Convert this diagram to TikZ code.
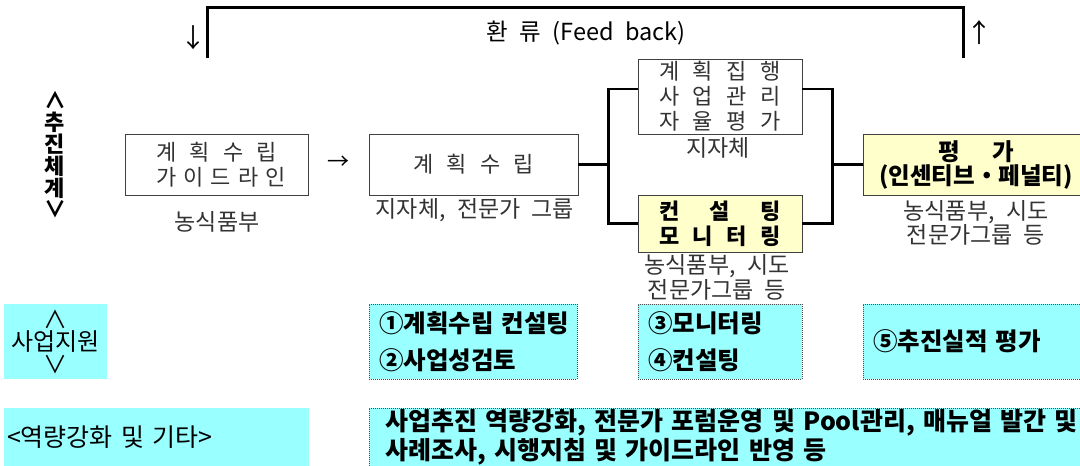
\documentclass[tikz,border=0pt]{standalone}
\usepackage{fontspec}
\setmainfont{Noto Sans CJK KR}[WordSpace=2.2]
\usetikzlibrary{positioning}
\definecolor{boxyellow}{HTML}{FFFFCC}
\definecolor{boxcyan}{HTML}{99FFFF}
\definecolor{labelgray}{HTML}{333333}

\begin{document}
\begin{tikzpicture}[x=1pt, y=-1pt,
    whitebox/.style={draw=black!75, line width=0.8pt, fill=white, inner sep=0pt,
      text=labelgray, align=center, font=\fontsize{22}{25}\selectfont},
    yellowbox/.style={whitebox, fill=boxyellow, text=black,
      font=\fontsize{22}{25}\selectfont\bfseries},
    cyanbox/.style={fill=boxcyan, inner sep=0pt, align=left,
      font=\fontsize{24.5}{37}\selectfont\bfseries},
    dotbox/.style={cyanbox, draw=black!70, line width=0.8pt,
      dash pattern=on 1pt off 1pt},
    note/.style={text=labelgray, inner sep=0pt, align=center,
      font=\fontsize{23}{20.5}\selectfont},
    link/.style={line width=2.6pt}]

  \useasboundingbox (0,0) rectangle (1080,466);

  % feedback loop
  \coordinate (fbl) at (207,58);
  \coordinate (fbr) at (963,58);
  \draw [line width=3pt] (fbl) -- ++(0,-51) -| (fbr);
  \node [font=\fontsize{26}{26}\selectfont] (fbdown) at (193,38) {↓};
  \node [font=\fontsize{26}{26}\selectfont] (fbup) at (979,33) {↑};
  \node [font=\fontsize{23.5}{23.5}\selectfont] (fbtext) at (586,33) {환 류 (Feed back)};

  % side title
  \node [font=\fontsize{22}{21.8}\selectfont\bfseries, align=center] (side) at (55,155)
    {∧\\추\\진\\체\\계\\∨};

  % main flow
  \node [whitebox, minimum width=183, minimum height=61] (guide) at (216.5,164.5)
    {\makebox[121pt][s]{계 획 수 립}\\\makebox[121pt][s]{가 이 드 라 인}};
  \node [note] (guidelab) at (217,222) {농식품부};
  \node [font=\fontsize{22}{22}\selectfont] (arr) at (338,163) {→};

  \node [whitebox, minimum width=209, minimum height=61] (plan) at (473.5,164.5)
    {\makebox[121pt][s]{계 획 수 립}};
  \node [note] (planlab) at (475,210) {지자체, 전문가 그룹};

  \node [whitebox, minimum width=164, minimum height=75] (exec) at (720,96.5)
    {\makebox[122pt][s]{계 획 집 행}\\\makebox[122pt][s]{사 업 관 리}\\\makebox[122pt][s]{자 율 평 가}};
  \node [note] (execlab) at (718,148) {지자체};

  \node [yellowbox, minimum width=164, minimum height=57] (consult) at (720,223.5)
    {\makebox[122pt][s]{컨 설 팅}\\\makebox[122pt][s]{모 니 터 링}};
  \node [note] (consultlab) at (717,277.5) {농식품부, 시도\\전문가그룹 등};

  \node [yellowbox, minimum width=226, minimum height=61,
    font=\fontsize{23.5}{24}\selectfont\bfseries] (eval) at (976,164.5)
    {\makebox[76pt][s]{평 가}\\(인센티브・페널티)};
  \node [note] (evallab) at (976,223) {농식품부, 시도\\전문가그룹 등};

  \draw [link] (plan.east) -- ++(30,0) |- ([yshift=7.5pt]exec.west);
  \draw [link] ([xshift=30pt]plan.east) |- (consult.west);
  \draw [link] ([yshift=7.5pt]exec.east) -| ([xshift=-30pt]eval.west) -- (eval.west);
  \draw [link] (consult.east) -| ([xshift=-30pt]eval.west);

  % support row
  \node [cyanbox, minimum width=103, minimum height=75, align=center,
    font=\fontsize{24}{22.5}\selectfont] (support) at (55.5,341.5) {∧\\사업지원\\∨};
  \node [dotbox, minimum width=208, minimum height=75, text width=188, inner xsep=10]
    (supplan) at (473,341.5) {\mbox{①계획수립 컨설팅}\\②사업성검토};
  \node [dotbox, minimum width=164, minimum height=75, text width=144, inner xsep=10]
    (supmon) at (720,341.5) {③모니터링\\④컨설팅};
  \node [dotbox, minimum width=227, minimum height=75, text width=207, inner xsep=10]
    (supeval) at (976.5,341.5) {⑤추진실적 평가};

  % capacity row
  \node [cyanbox, minimum width=305, minimum height=59, text width=299, inner xsep=3,
    font=\fontsize{25}{25}\selectfont] (other) at (156.5,437.5) {<역량강화 및 기타>};
  \node [dotbox, minimum width=800, minimum height=59, text width=768, inner xsep=16,
    font=\fontsize{25}{29}\selectfont\bfseries] (othertext) at (769,437.5)
    {사업추진 역량강화, 전문가 포럼운영 및 Pool관리, 매뉴얼 발간 및\\사례조사, 시행지침 및 가이드라인 반영 등};

\end{tikzpicture}
\end{document}
